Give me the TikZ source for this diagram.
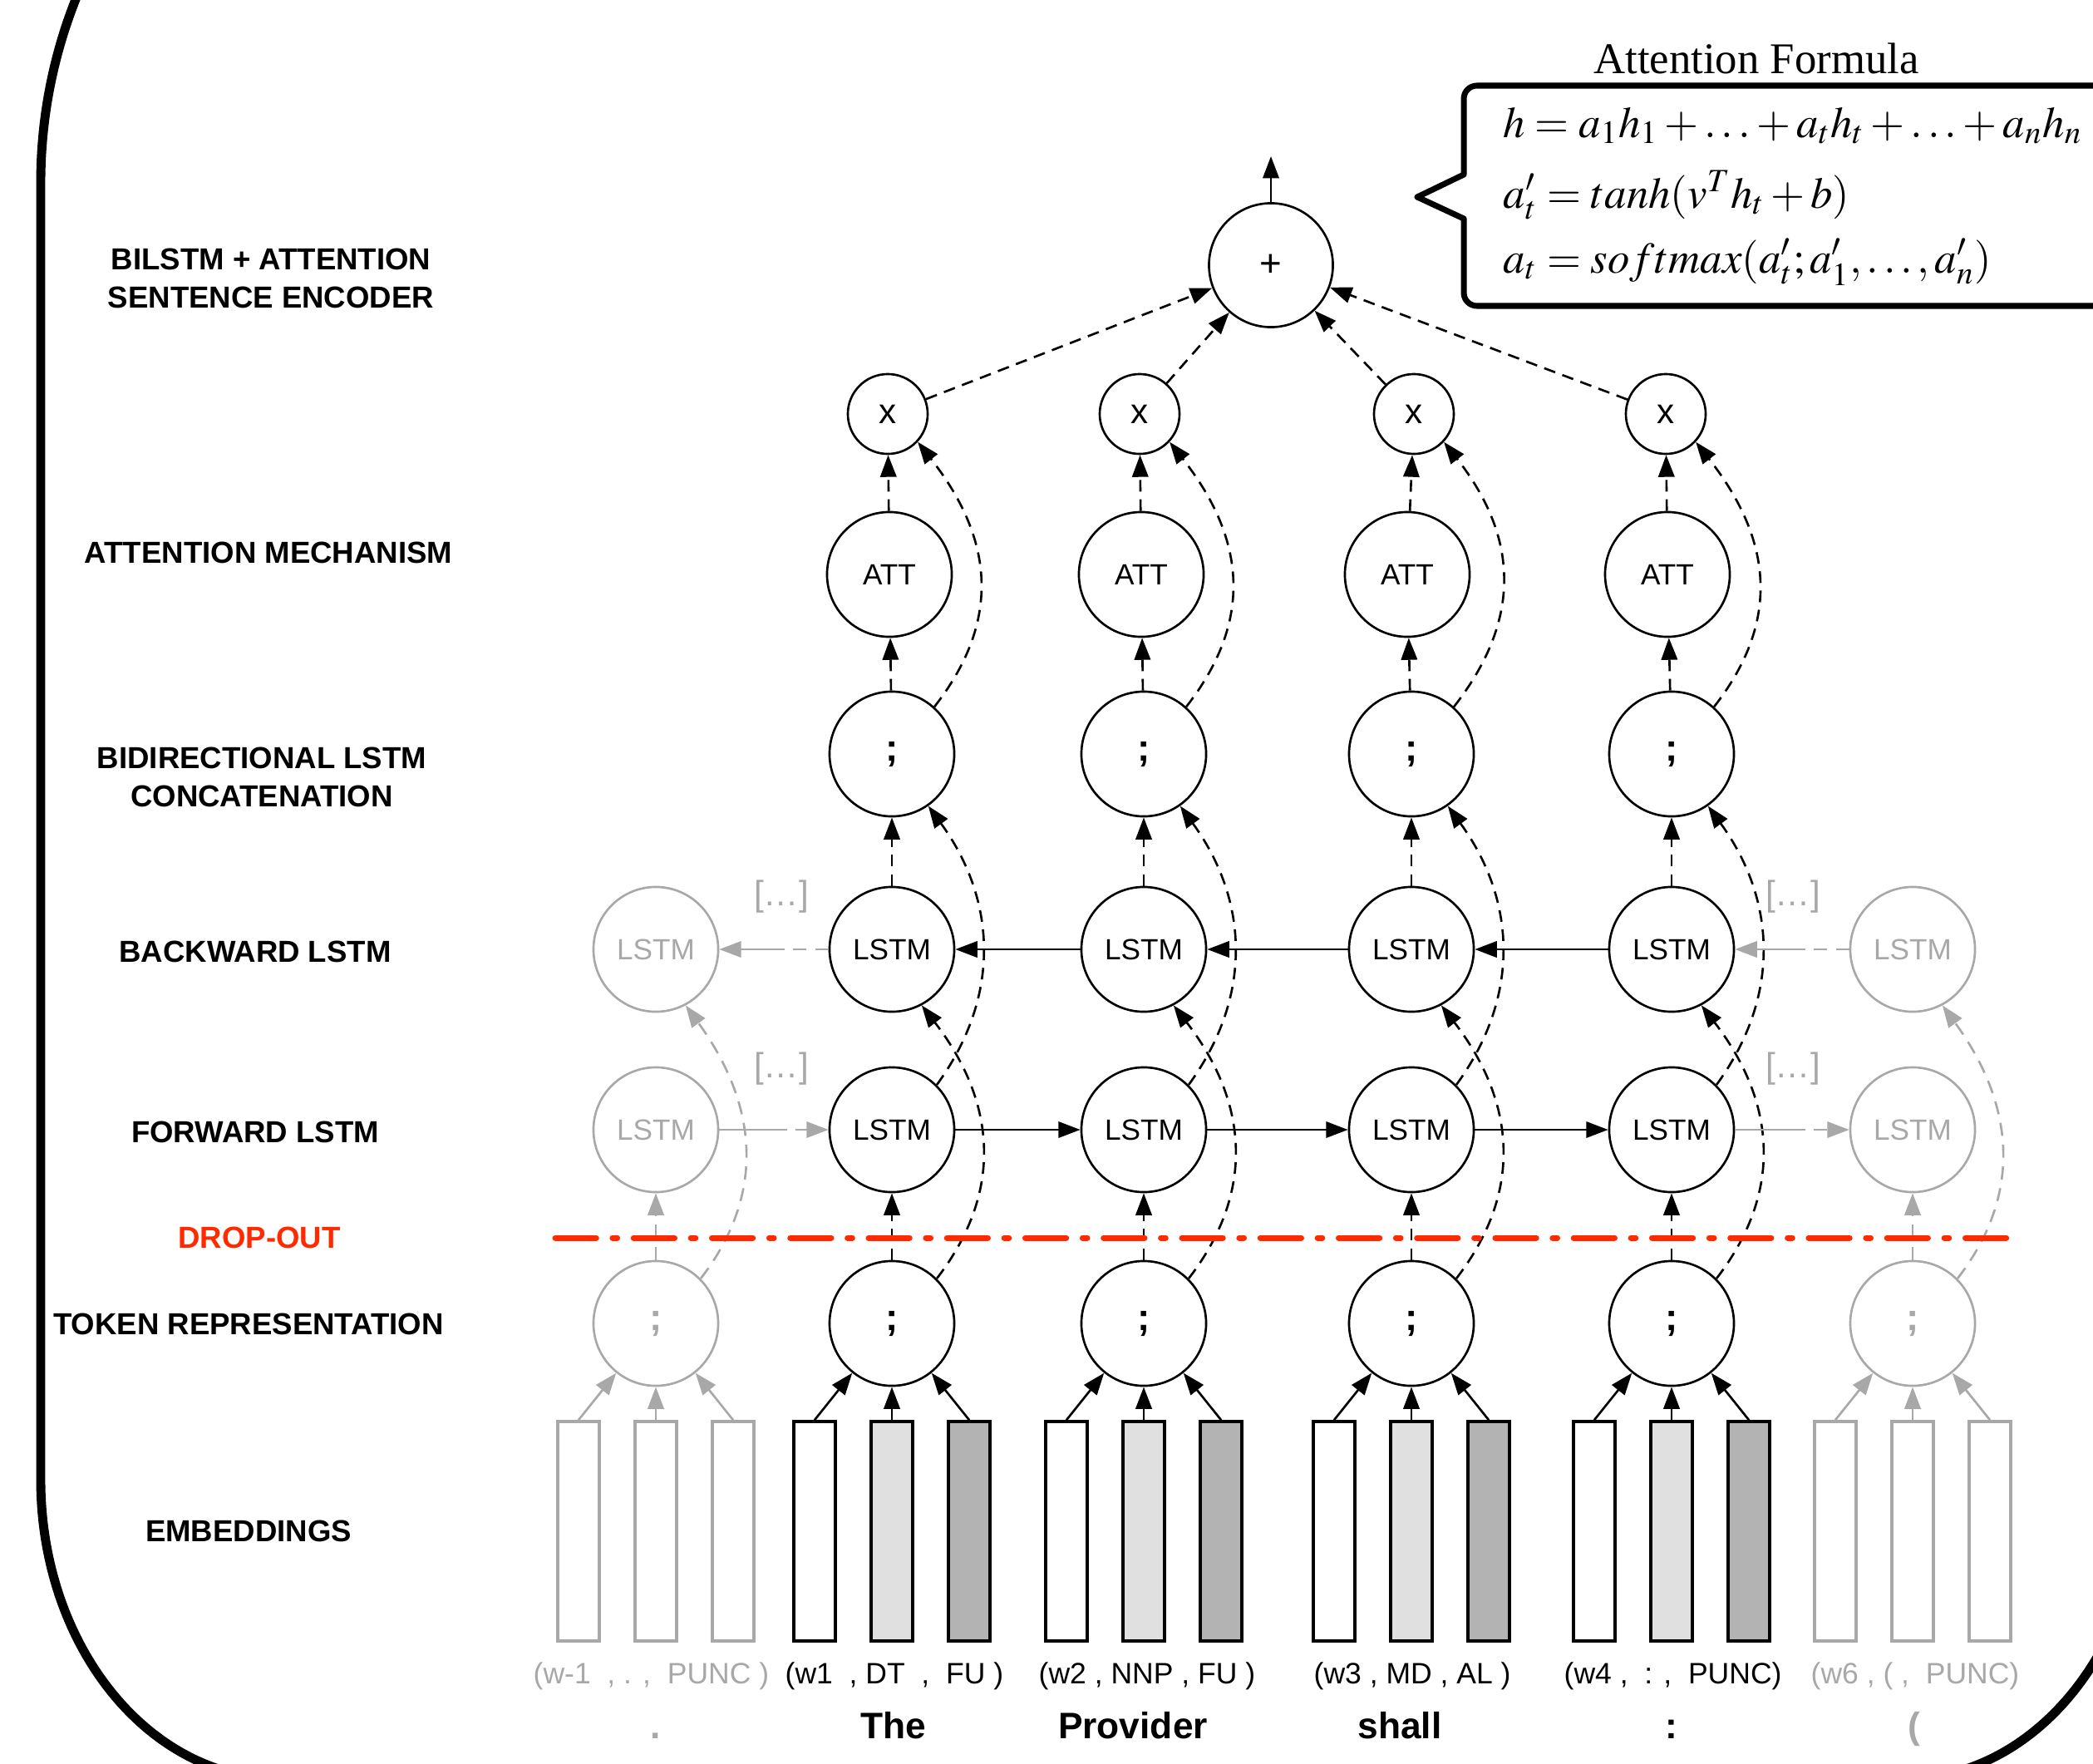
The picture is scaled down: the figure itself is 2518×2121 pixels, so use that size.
\documentclass[tikz,border=0pt]{standalone}
\usepackage{mathptmx}
\usepackage[no-math]{fontspec}
\setmainfont{Liberation Sans}
\newfontfamily\timesfont{Liberation Serif}
\usetikzlibrary{arrows.meta,calc}
\definecolor{gry}{HTML}{A8A8A8}
\definecolor{dropred}{HTML}{FF2A00}
\definecolor{emblight}{HTML}{E0E0E0}
\definecolor{embdark}{HTML}{B3B3B3}
\begin{document}
\begin{tikzpicture}[x=0.01cm,y=-0.01cm,
  circ/.style={circle,draw,line width=0.75pt,minimum size=1.5cm,inner sep=0pt,font=\fontsize{10}{12}\selectfont},
  smallcirc/.style={circ,minimum size=0.96cm,font=\fontsize{12}{14}\selectfont},
  gcirc/.style={circ,draw=gry,text=gry},
  semic/.style={font=\fontsize{13}{14}\selectfont\bfseries},
  arw/.style={-{Triangle[length=7.5pt,width=5.5pt]}},
  sline/.style={line width=0.75pt},
  dline/.style={line width=0.75pt,dash pattern=on 4pt off 2.6pt},
  gline/.style={line width=0.75pt,draw=gry},
  gdline/.style={line width=0.75pt,draw=gry,dash pattern=on 4.5pt off 3pt},
  emb/.style={rectangle,draw,line width=1pt,minimum width=0.5cm,minimum height=2.64cm,inner sep=0pt},
  lab/.style={font=\fontsize{10.4}{13.2}\selectfont\bfseries,align=center},
  tlab/.style={anchor=base west,inner sep=0pt,font=\fontsize{10.1}{12}\selectfont},
  word/.style={anchor=base,inner sep=0pt,font=\fontsize{12.6}{14}\selectfont\bfseries},
  dots/.style={text=gry,font=\fontsize{12}{14}\selectfont},
  frm/.style={anchor=base west,inner sep=0pt,font=\fontsize{15}{18}\selectfont}
]
\useasboundingbox (0,0) rectangle (2518,2121);

% outer frame and formula box (clipped to the page)
\begin{scope}
\clip (0,0) rectangle (2518,2121);
\draw[line width=3.1pt] (649,-380) .. controls (318,-380) and (49,-111) .. (49,220)
  -- (49,1780) .. controls (49,1979) and (178,2140) .. (337,2140)
  -- (2291,2140) .. controls (2450,2140) and (2579,1979) .. (2579,1780) -- (2579,-380);
\draw[line width=2pt,line join=round] (2600,103) -- (1777,103) .. controls (1768,103) and (1761,110) .. (1761,119)
  -- (1761,210) -- (1705,237) -- (1761,263) -- (1761,352)
  .. controls (1761,361) and (1768,368) .. (1777,368) -- (2600,368);
\end{scope}

% formula
\node[font=\timesfont\fontsize{15}{18}\selectfont] (ftitle) at (2113,70) {Attention Formula};
\node[frm] (f1) at (1808,165) {$h = a_1h_1 + \ldots + a_th_t + \ldots + a_nh_n$};
\node[frm] (f2) at (1808,250) {$a'_t = tanh(v^Th_t + b)$};
\node[frm] (f3) at (1808,328) {$a_t = softmax(a'_t; a'_1, \ldots, a'_n)$};

% left labels
\node[lab] (l1) at (326,335) {BILSTM + ATTENTION\\SENTENCE ENCODER};
\node[lab] (l2) at (323,665) {ATTENTION MECHANISM};
\node[lab] (l3) at (315,935) {BIDIRECTIONAL LSTM\\CONCATENATION};
\node[lab] (l4) at (307,1145) {BACKWARD LSTM};
\node[lab] (l5) at (307,1362) {FORWARD LSTM};
\node[lab,text=dropred] (l6) at (312,1489) {DROP-OUT};
\node[lab] (l7) at (299,1593) {TOKEN REPRESENTATION};
\node[lab] (l8) at (299,1842) {EMBEDDINGS};

% top sum node
\node[circ,minimum size=1.49cm,font=\fontsize{13}{14}\selectfont] (plus) at (1529,319) {+};
\coordinate (out) at (1529,188);
\draw[sline,arw] (plus) -- (out);

% main columns
\foreach \i/\c/\a/\m in {1/1073/1070/1068,2/1376/1373/1371,3/1698/1693/1701,4/2011/2006/2004}{
  \node[smallcirc] (x\i) at (\m,498) {x};
  \node[circ] (att\i) at (\a,691) {ATT};
  \node[circ,semic] (cat\i) at (\c,907) {;};
  \node[circ] (bl\i) at (\c,1142) {LSTM};
  \node[circ] (fl\i) at (\c,1359) {LSTM};
  \node[circ,semic] (tok\i) at (\c,1592) {;};
  \node[emb,fill=white] (e\i a) at (\c-93,1842) {};
  \node[emb,fill=emblight] (e\i b) at (\c,1842) {};
  \node[emb,fill=embdark] (e\i c) at (\c+93,1842) {};
  \draw[sline,arw] (e\i a.north) -- (tok\i);
  \draw[sline,arw] (e\i b.north) -- (tok\i);
  \draw[sline,arw] (e\i c.north) -- (tok\i);
  \draw[dline,arw] (tok\i) -- (fl\i);
  \draw[dline,arw] (bl\i) -- (cat\i);
  \draw[dline,arw] (cat\i) -- (att\i);
  \draw[dline,arw] (att\i) -- (x\i);
  \draw[dline,arw] (x\i) -- (plus);
  \draw[dline,arw] (cat\i.48) .. controls +(86,-110) and +(86,110) .. (x\i.-43);
  \draw[dline,arw] (fl\i.45) .. controls +(80,-110) and +(80,110) .. (cat\i.-55);
  \draw[dline,arw] (tok\i.45) .. controls +(85,-110) and +(85,110) .. (bl\i.-62);
}

% recurrent arrows
\draw[sline,arw] (fl1) -- (fl2);
\draw[sline,arw] (fl2) -- (fl3);
\draw[sline,arw] (fl3) -- (fl4);
\draw[sline,arw] (bl4) -- (bl3);
\draw[sline,arw] (bl3) -- (bl2);
\draw[sline,arw] (bl2) -- (bl1);

% grey side columns
\foreach \s/\c in {L/789,R/2301}{
  \node[gcirc] (gbl\s) at (\c,1142) {LSTM};
  \node[gcirc] (gfl\s) at (\c,1359) {LSTM};
  \node[gcirc,semic] (gtok\s) at (\c,1592) {;};
  \node[emb,draw=gry,fill=white] (ge\s a) at (\c-93,1842) {};
  \node[emb,draw=gry,fill=white] (ge\s b) at (\c,1842) {};
  \node[emb,draw=gry,fill=white] (ge\s c) at (\c+93,1842) {};
  \draw[gline,arw] (ge\s a.north) -- (gtok\s);
  \draw[gline,arw] (ge\s b.north) -- (gtok\s);
  \draw[gline,arw] (ge\s c.north) -- (gtok\s);
  \draw[gdline,arw] (gtok\s) -- (gfl\s);
  \draw[gdline,arw] (gtok\s.45) .. controls +(85,-110) and +(80,110) .. (gbl\s.-62);
}

% grey links to the ends of the chain
\coordinate (mfL) at ($(gflL.east)!.5!(fl1.west)$);
\draw[gline] (gflL.east) -- (mfL);
\draw[gdline,arw] (mfL) -- (fl1.west);
\coordinate (mbL) at ($(gblL.east)!.5!(bl1.west)$);
\draw[gdline] (bl1.west) -- (mbL);
\draw[gline,arw] (mbL) -- (gblL.east);
\coordinate (mfR) at ($(fl4.east)!.5!(gflR.west)$);
\draw[gline] (fl4.east) -- (mfR);
\draw[gdline,arw] (mfR) -- (gflR.west);
\coordinate (mbR) at ($(bl4.east)!.5!(gblR.west)$);
\draw[gdline] (gblR.west) -- (mbR);
\draw[gline,arw] (mbR) -- (bl4.east);

\node[dots] (d1) at (940,1079) {[…]};
\node[dots] (d2) at (940,1286) {[…]};
\node[dots] (d3) at (2157,1079) {[…]};
\node[dots] (d4) at (2157,1286) {[…]};

% drop-out line
\draw[dropred,line width=2pt,line cap=round,dash pattern=on 14pt off 5.6pt on 1.6pt off 5.6pt] (668,1489) -- (2425,1489);

% token labels
\node[tlab,text=gry] (t0) at (641,2025) {(w-1\ \ , . ,\ \ PUNC )};
\node[tlab] (t1) at (944,2025) {(w1\ \ , DT\ \ ,\ \ FU )};
\node[tlab] (t2) at (1249,2025) {(w2 , NNP , FU )};
\node[tlab] (t3) at (1580,2025) {(w3 , MD , AL )};
\node[tlab] (t4) at (1881,2025) {(w4 ,\ \ : ,\ \ PUNC)};
\node[tlab,text=gry] (t5) at (2178,2025) {(w6 , ( ,\ \ PUNC)};

\node[word,text=gry] (w0) at (789,2091) {.};
\node[word] (w1) at (1075,2091) {The};
\node[word] (w2) at (1363,2091) {Provider};
\node[word] (w3) at (1684,2091) {shall};
\node[word] (w4) at (2011,2091) {:};
\node[word,text=gry] (w5) at (2303,2091) {(};
\end{tikzpicture}
\end{document}
